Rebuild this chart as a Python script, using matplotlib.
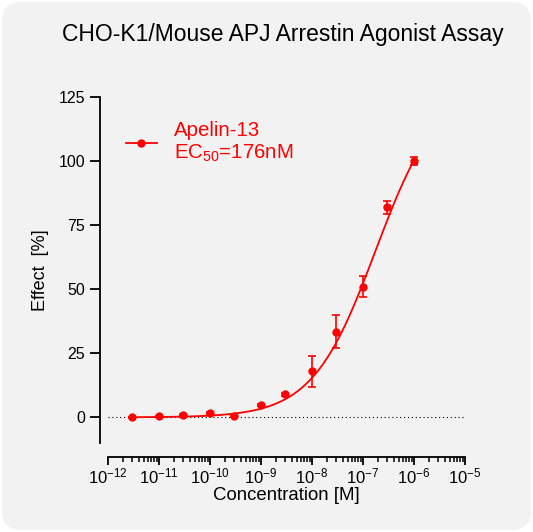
import numpy as np
import matplotlib
matplotlib.use('Agg')
import matplotlib.pyplot as plt
from matplotlib.patches import FancyBboxPatch

plt.rcParams['font.family'] = ['Liberation Sans', 'DejaVu Sans']
plt.rcParams['mathtext.fontset'] = 'custom'
plt.rcParams['mathtext.rm'] = 'Liberation Sans'
plt.rcParams['mathtext.it'] = 'Liberation Sans'
plt.rcParams['mathtext.default'] = 'regular'

# data
conc = [3e-12, 1e-11, 3e-11, 1e-10, 3e-10, 1e-9, 3e-9, 1e-8, 3e-8, 1e-7, 3e-7, 1e-6]
effect = [0.0, 0.4, 0.9, 1.6, 0.6, 5.0, 9.0, 18.0, 33.5, 51.0, 82.0, 100.0]
err = [0.3, 0.3, 0.3, 0.3, 0.3, 0.4, 0.5, 6.0, 6.5, 4.0, 2.5, 1.5]

# fitted 4PL parameters
bottom, top, ec50, hill = 0.0, 130.0, 176e-9, 0.7

red = '#ff0000'

fig = plt.figure(figsize=(5.33, 5.32), dpi=100)
fig.patch.set_facecolor('white')
bg = FancyBboxPatch((0.004, 0.004), 0.992, 0.992, boxstyle='round,pad=0,rounding_size=0.035',
                    transform=fig.transFigure, facecolor='#f2f2f2', edgecolor='none', zorder=-10)
fig.patches.append(bg)

ax = fig.add_axes([0.2026, 0.1673, 0.6698, 0.6504])
ax.set_facecolor('none')

xx = np.logspace(np.log10(3e-12), -6, 300)
yy = bottom + (top - bottom) / (1 + (ec50 / xx) ** hill)
ax.plot(xx, yy, color=red, lw=1.3, zorder=3)
ax.errorbar(conc, effect, yerr=err, fmt='o', color=red, ms=5, capsize=3,
            elinewidth=1.2, capthick=1.2, zorder=4)
ax.axhline(0, color='black', lw=0.8, ls=(0, (1, 2.5)), zorder=1)

# legend entry
ax.plot([], [], '-o', color=red, ms=5, lw=1.3, label='Apelin-13\nEC$_{50}$=176nM')
leg = ax.legend(loc='upper left', bbox_to_anchor=(-0.002, 0.985), frameon=False,
                fontsize=14.7, handlelength=1.55, handletextpad=0.8, labelcolor=red,
                labelspacing=0.2)

ax.set_xscale('log')
ax.set_xlim(1e-12, 1e-5)
ax.set_ylim(-10, 125)
ax.set_yticks([0, 25, 50, 75, 100, 125])
ax.set_xticks([10.0 ** k for k in range(-12, -4)])

for s in ['top', 'right']:
    ax.spines[s].set_visible(False)
ax.spines['left'].set_position(('outward', 6))
ax.spines['bottom'].set_position(('outward', 10))
ax.spines['left'].set_linewidth(1.3)
ax.spines['bottom'].set_linewidth(1.3)
ax.tick_params(axis='y', which='major', length=7.5, width=1.3, labelsize=11.5, pad=3)
ax.tick_params(axis='x', which='major', length=6, width=1.3, labelsize=12, pad=1)
ax.tick_params(axis='x', which='minor', length=3.5, width=1.1)

ax.set_xlabel('Concentration [M]', fontsize=13.4, labelpad=0)
ax.set_ylabel('Effect  [%]', fontsize=13, labelpad=7)

fig.text(283 / 533, 1 - 35 / 532, 'CHO-K1/Mouse APJ Arrestin Agonist Assay', fontsize=16.5,
         ha='center', va='center')

fig.savefig('out.png', dpi=100)
